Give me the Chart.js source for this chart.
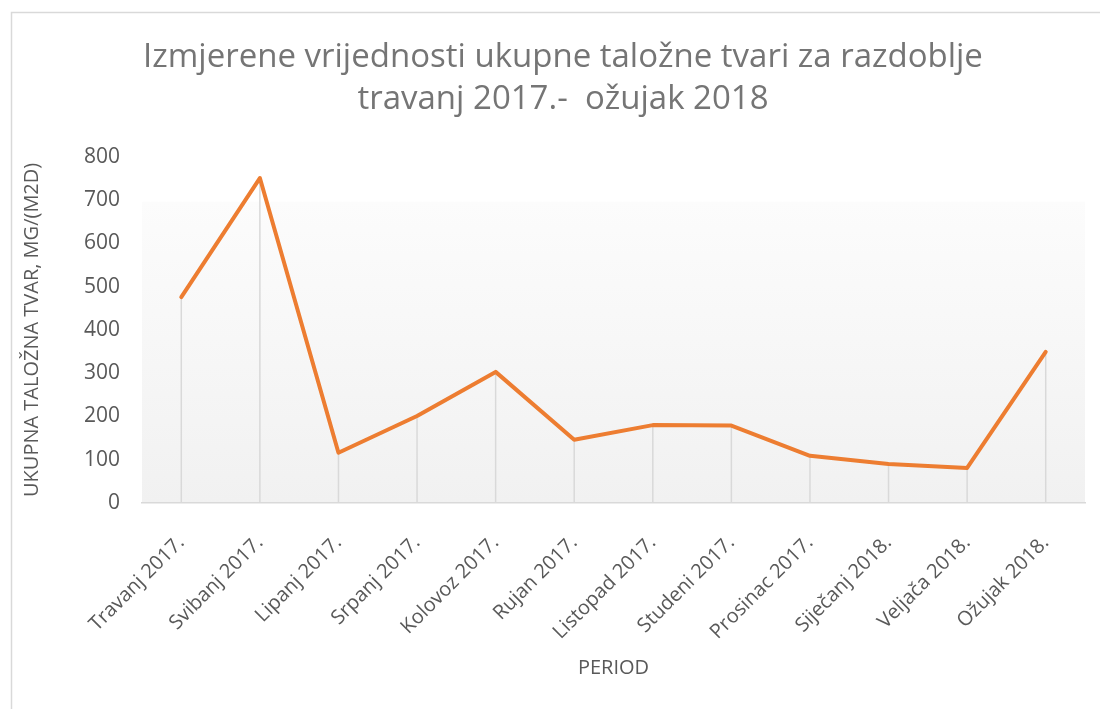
<!DOCTYPE html>
<html>
<head>
<meta charset="utf-8">
<script src="https://cdn.jsdelivr.net/npm/chart.js@4"></script>
<style>
  html, body { margin: 0; padding: 0; background: #ffffff; }
  #wrap { width: 1100px; height: 709px; }
</style>
</head>
<body>
<div id="wrap"><canvas id="taloznaChart" width="1100" height="709"></canvas></div>
<script>
const periods = [
    "Travanj 2017.", "Svibanj 2017.", "Lipanj 2017.", "Srpanj 2017.",
    "Kolovoz 2017.", "Rujan 2017.", "Listopad 2017.", "Studeni 2017.",
    "Prosinac 2017.", "Siječanj 2018.", "Veljača 2018.", "Ožujak 2018."
];
const taloznaTvar = [476, 751, 116, 201, 303, 146, 180, 179, 109, 90, 81, 349];
const yTicks = [0, 100, 200, 300, 400, 500, 600, 700, 800];
const titleLines = [
    "Izmjerene vrijednosti ukupne taložne tvari za razdoblje",
    "travanj 2017.-  ožujak 2018"
];

const FONT = "'Open Sans', Lato, sans-serif";
const GREY_TEXT = "#595959";
const GREY_LINE = "#d9d9d9";

// chart frame + plot area gradient
const backgroundPlugin = {
    id: "backgroundPlugin",
    beforeDraw(chart) {
        const { ctx, chartArea } = chart;
        ctx.save();
        ctx.strokeStyle = GREY_LINE;
        ctx.lineWidth = 1.5;
        ctx.strokeRect(11.5, 12.5, 1200, 1200);

        const top = chartArea.top + 45;
        const grad = ctx.createLinearGradient(0, top, 0, chartArea.bottom);
        grad.addColorStop(0, "#fcfcfc");
        grad.addColorStop(1, "#f1f1f1");
        ctx.fillStyle = grad;
        ctx.fillRect(chartArea.left, top, chartArea.right - chartArea.left, chartArea.bottom - top);
        ctx.restore();
    }
};

// vertical drop lines from each point to the axis
const dropLines = {
    id: "dropLines",
    beforeDatasetsDraw(chart) {
        const { ctx, chartArea } = chart;
        const meta = chart.getDatasetMeta(0);
        ctx.save();
        ctx.strokeStyle = GREY_LINE;
        ctx.lineWidth = 1.5;
        meta.data.forEach(pt => {
            ctx.beginPath();
            ctx.moveTo(pt.x, pt.y);
            ctx.lineTo(pt.x, chartArea.bottom);
            ctx.stroke();
        });
        ctx.restore();
    }
};

new Chart(document.getElementById("taloznaChart"), {
    type: "line",
    data: {
        labels: periods,
        datasets: [{
            label: "Ukupna taložna tvar",
            data: taloznaTvar,
            borderColor: "#ED7D31",
            backgroundColor: "#ED7D31",
            borderWidth: 4,
            borderJoinStyle: "round",
            borderCapStyle: "round",
            pointRadius: 0,
            tension: 0,
            fill: false,
        }]
    },
    options: {
        responsive: false,
        animation: false,
        layout: { padding: { left: 41, right: 15, top: 0, bottom: 0 } },
        plugins: {
            legend: { display: false },
            tooltip: { enabled: false },
            title: {
                display: true,
                text: titleLines,
                color: "#757575",
                font: { family: FONT, size: 33, weight: "normal", lineHeight: 1.27 },
                padding: { top: 37, bottom: 36 },
            }
        },
        scales: {
            x: {
                type: "category",
                offset: true,
                grid: { display: false, drawTicks: false },
                border: { display: true, color: GREY_LINE, width: 1.5 },
                ticks: {
                    color: GREY_TEXT,
                    font: { family: FONT, size: 20 },
                    minRotation: 45,
                    maxRotation: 45,
                    autoSkip: false,
                    padding: 28,
                },
                title: {
                    display: true,
                    text: "PERIOD",
                    color: GREY_TEXT,
                    font: { family: FONT, size: 20 },
                    padding: { top: 0, bottom: 29 },
                },
                afterFit(scale) { scale.height = 206; }
            },
            y: {
                min: 0,
                max: 800,
                afterBuildTicks(scale) { scale.ticks = yTicks.map(v => ({ value: v })); },
                grid: { display: false, drawTicks: false },
                border: { display: false },
                ticks: {
                    color: GREY_TEXT,
                    font: { family: FONT, size: 21 },
                    padding: 22,
                },
                title: {
                    display: true,
                    text: "UKUPNA TALOŽNA TVAR, MG/(M2D)",
                    color: GREY_TEXT,
                    font: { family: FONT, size: 20 },
                    padding: { top: -21, bottom: 0 },
                },
                afterFit(scale) { scale.width = 101; }
            }
        }
    },
    plugins: [backgroundPlugin, dropLines]
});
</script>
</body>
</html>
